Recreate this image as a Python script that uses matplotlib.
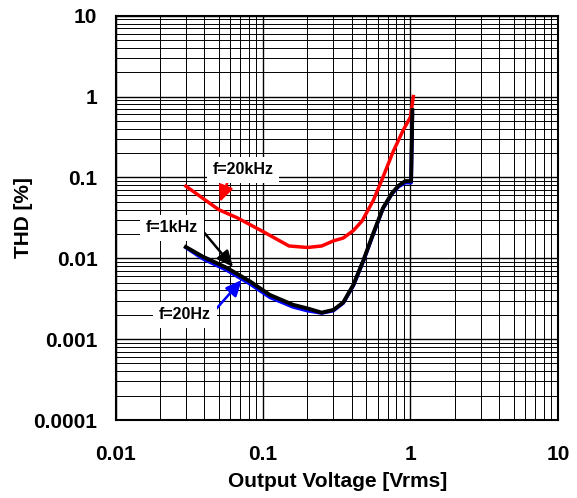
import matplotlib
matplotlib.use("Agg")
import matplotlib.pyplot as plt
from matplotlib.ticker import FixedLocator, NullFormatter, LogLocator

plt.rcParams['font.family'] = ['Liberation Sans', 'DejaVu Sans']
plt.rcParams['font.weight'] = 'bold'

# Data
x_20k = [0.03, 0.05, 0.067, 0.1, 0.15, 0.2, 0.25, 0.3, 0.35, 0.41, 0.47, 0.56, 0.65, 0.76, 0.89, 1.0, 1.045]
y_20k = [0.078, 0.040, 0.0316, 0.0214, 0.0142, 0.0136, 0.0142, 0.0164, 0.0178, 0.022, 0.029, 0.052, 0.10, 0.205, 0.38, 0.56, 1.0]

x_1k = [0.03, 0.039, 0.057, 0.082, 0.111, 0.16, 0.2, 0.25, 0.3, 0.35, 0.41, 0.48, 0.56, 0.65, 0.75, 0.83, 0.92, 1.01, 1.03]
y_1k = [0.0138, 0.0105, 0.0076, 0.00515, 0.00353, 0.00266, 0.0024, 0.00213, 0.0023, 0.00284, 0.0047, 0.0095, 0.0204, 0.0416, 0.064, 0.079, 0.090, 0.090, 0.68]

x_20 = [0.03, 0.039, 0.057, 0.082, 0.111, 0.16, 0.2, 0.25, 0.3, 0.35, 0.41, 0.48, 0.56, 0.65, 0.75, 0.83, 0.92, 1.01, 1.03]
y_20 = [0.0136, 0.0099, 0.0071, 0.0048, 0.0033, 0.0025, 0.00225, 0.0021, 0.00225, 0.0028, 0.0046, 0.0093, 0.020, 0.041, 0.063, 0.077, 0.086, 0.086, 0.60]

x_ticks = [0.01, 0.1, 1, 10]
x_ticklabels = ['0.01', '0.1', '1', '10']
y_ticks = [0.0001, 0.001, 0.01, 0.1, 1, 10]
y_ticklabels = ['0.0001', '0.001', '0.01', '0.1', '1', '10']

fig = plt.figure(figsize=(5.77, 4.98), dpi=100)
ax = fig.add_axes([0.2002, 0.1566, 0.7668, 0.8119])
ax.set_xscale('log')
ax.set_yscale('log')
ax.set_xlim(0.01, 10)
ax.set_ylim(0.0001, 10)

ax.xaxis.set_major_locator(FixedLocator(x_ticks))
ax.yaxis.set_major_locator(FixedLocator(y_ticks))
ax.xaxis.set_minor_locator(LogLocator(base=10, subs=range(2, 10)))
ax.yaxis.set_minor_locator(LogLocator(base=10, subs=range(2, 10)))
ax.xaxis.set_minor_formatter(NullFormatter())
ax.yaxis.set_minor_formatter(NullFormatter())
ax.set_xticklabels(x_ticklabels, fontsize=15, fontweight='bold')
ax.set_yticklabels(y_ticklabels, fontsize=15, fontweight='bold')
ax.tick_params(axis='both', which='both', length=0)
ax.tick_params(axis='x', pad=18)
ax.tick_params(axis='y', pad=13)

ax.grid(True, which='major', color='black', lw=1.0)
ax.grid(True, which='minor', color='black', lw=0.7)
ax.set_axisbelow(True)
for s in ax.spines.values():
    s.set_linewidth(1.5)
    s.set_color('black')

ax.plot(x_20, y_20, color='#0000ff', lw=2.6, solid_joinstyle='round', zorder=3)
ax.plot(x_1k, y_1k, color='black', lw=2.8, solid_joinstyle='round', zorder=4)
ax.plot(x_20k, y_20k, color='#ff0000', lw=2.5, solid_joinstyle='round', zorder=3)

ax.set_xlabel('Output Voltage [Vrms]', fontsize=15, fontweight='bold')
ax.set_ylabel('THD [%]', fontsize=15, fontweight='bold')
ax.xaxis.set_label_coords(0.503, -0.128)
ax.yaxis.set_label_coords(-0.186, 0.50)

bbox = dict(boxstyle='square,pad=0.35', fc='white', ec='none')
astyle = '-|>,head_length=0.4,head_width=0.18'
ax.annotate('f=20kHz', xy=(0.051, 0.0497), xytext=(0.073, 0.124),
            fontsize=11.5, fontweight='bold', ha='center', va='center', bbox=bbox,
            arrowprops=dict(arrowstyle=astyle, color='#ff0000', lw=1.8, mutation_scale=24,
                            shrinkA=0, shrinkB=0, relpos=(0.28, 0.0)), zorder=6)
ax.annotate('f=1kHz', xy=(0.0627, 0.0078), xytext=(0.0242, 0.0238),
            fontsize=11.5, fontweight='bold', ha='center', va='center', bbox=bbox,
            arrowprops=dict(arrowstyle=astyle, color='black', lw=1.8, mutation_scale=24,
                            shrinkA=0, shrinkB=0, relpos=(1.0, 0.65)), zorder=6)
ax.annotate('f=20Hz', xy=(0.0718, 0.0054), xytext=(0.0296, 0.0020),
            fontsize=11.5, fontweight='bold', ha='center', va='center', bbox=bbox,
            arrowprops=dict(arrowstyle=astyle, color='#0000ff', lw=1.8, mutation_scale=24,
                            shrinkA=0, shrinkB=0, relpos=(1.0, 0.5)), zorder=6)

fig.savefig('out.png', dpi=100)
